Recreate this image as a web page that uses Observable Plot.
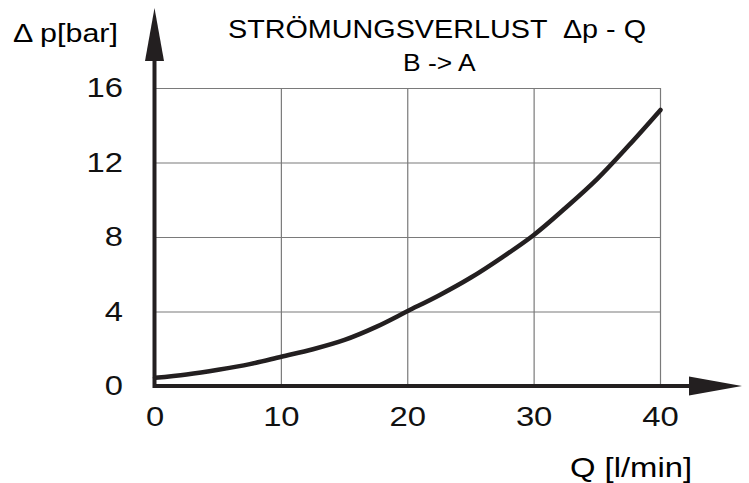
<!DOCTYPE html>
<html>
<head>
<meta charset="utf-8">
<script src="https://cdn.jsdelivr.net/npm/d3@7"></script>
<script src="https://cdn.jsdelivr.net/npm/@observablehq/plot@0.6"></script>
<style>
  html, body { margin: 0; padding: 0; background: #fff; }
  svg text { font-family: "Liberation Sans", Arial, sans-serif; }
</style>
</head>
<body>
<div id="chart"></div>
<script>
// Data
const flowQ = [0, 2.5, 5, 7.5, 10, 12.5, 15, 17.5, 20, 22.5, 25, 27.5, 30, 32.5, 35, 37.5, 40];
const pressureDrop = [0.47, 0.65, 0.9, 1.2, 1.6, 2.0, 2.5, 3.2, 4.05, 4.9, 5.85, 6.95, 8.15, 9.6, 11.15, 12.95, 14.85];
const xTicks = [0, 10, 20, 30, 40];
const yTicks = [0, 4, 8, 12, 16];
const titleText = "STRÖMUNGSVERLUST  Δp - Q";
const subtitleText = "B -> A";
const yLabelText = "Δ p[bar]";
const xLabelText = "Q [l/min]";

const data = flowQ.map((q, i) => ({q, dp: pressureDrop[i]}));
const ink = "#231f20";

function decorations(index, scales, values, dims) {
  const g = d3.create("svg:g");
  const x0 = scales.x(0), y0 = scales.y(0);
  const xEnd = dims.width - 7;     // arrow tip of x axis
  const yEnd = 8;                  // arrow tip of y axis
  g.append("line").attr("x1", x0).attr("x2", xEnd - 50).attr("y1", y0).attr("y2", y0)
    .attr("stroke", ink).attr("stroke-width", 4);
  g.append("line").attr("x1", x0).attr("x2", x0).attr("y1", y0 + 2).attr("y2", yEnd + 50)
    .attr("stroke", ink).attr("stroke-width", 4);
  g.append("path").attr("fill", ink)
    .attr("d", `M${xEnd},${y0}L${xEnd - 53},${y0 - 9.5}L${xEnd - 53},${y0 + 9.5}Z`);
  g.append("path").attr("fill", ink)
    .attr("d", `M${x0},${yEnd}L${x0 - 9.5},${yEnd + 53}L${x0 + 9.5},${yEnd + 53}Z`);
  const t = g.append("g").attr("text-anchor", "start").attr("fill", "#000");
  t.append("text").attr("x", 228).attr("y", 38).attr("font-size", 25).text(titleText);
  t.append("text").attr("x", 403).attr("y", 71).attr("font-size", 24).text(subtitleText);
  t.append("text").attr("x", 13).attr("y", 42).attr("font-size", 26).text(yLabelText);
  t.append("text").attr("x", 570).attr("y", 477).attr("font-size", 28).text(xLabelText);
  return g.node();
}

const chart = Plot.plot({
  width: 749,
  height: 483,
  marginLeft: 154.5,
  marginRight: 89,
  marginTop: 88,
  marginBottom: 97,
  style: {background: "#fff", color: "#000", fontFamily: "Liberation Sans, Arial, sans-serif"},
  x: {domain: [0, 40], ticks: xTicks},
  y: {domain: [0, 16], ticks: yTicks},
  marks: [
    Plot.gridX(xTicks, {stroke: "#7a7a7a", strokeOpacity: 1, strokeWidth: 1.2}),
    Plot.gridY(yTicks, {stroke: "#7a7a7a", strokeOpacity: 1, strokeWidth: 1.2}),
    Plot.axisX(xTicks, {tickSize: 0, tickPadding: 20, fontSize: 28, label: null, fill: "#111"}),
    Plot.axisY(yTicks, {tickSize: 0, tickPadding: 32, fontSize: 28, label: null, fill: "#111"}),
    Plot.line(data, {x: "q", y: "dp", curve: "catmull-rom", stroke: ink, strokeWidth: 4.5}),
    decorations
  ]
});
document.getElementById("chart").append(chart);

// The reference lettering is slightly wider than Liberation Sans: stretch glyphs horizontally.
d3.select(chart).selectAll("text").each(function () {
  const el = this;
  const k = el.textContent === titleText ? 1.15 : el.textContent === subtitleText ? 1.1 : 1.17;
  const len = el.getComputedTextLength();
  if (len > 0) {
    el.setAttribute("textLength", (len * k).toFixed(1));
    el.setAttribute("lengthAdjust", "spacingAndGlyphs");
  }
});
</script>
</body>
</html>
